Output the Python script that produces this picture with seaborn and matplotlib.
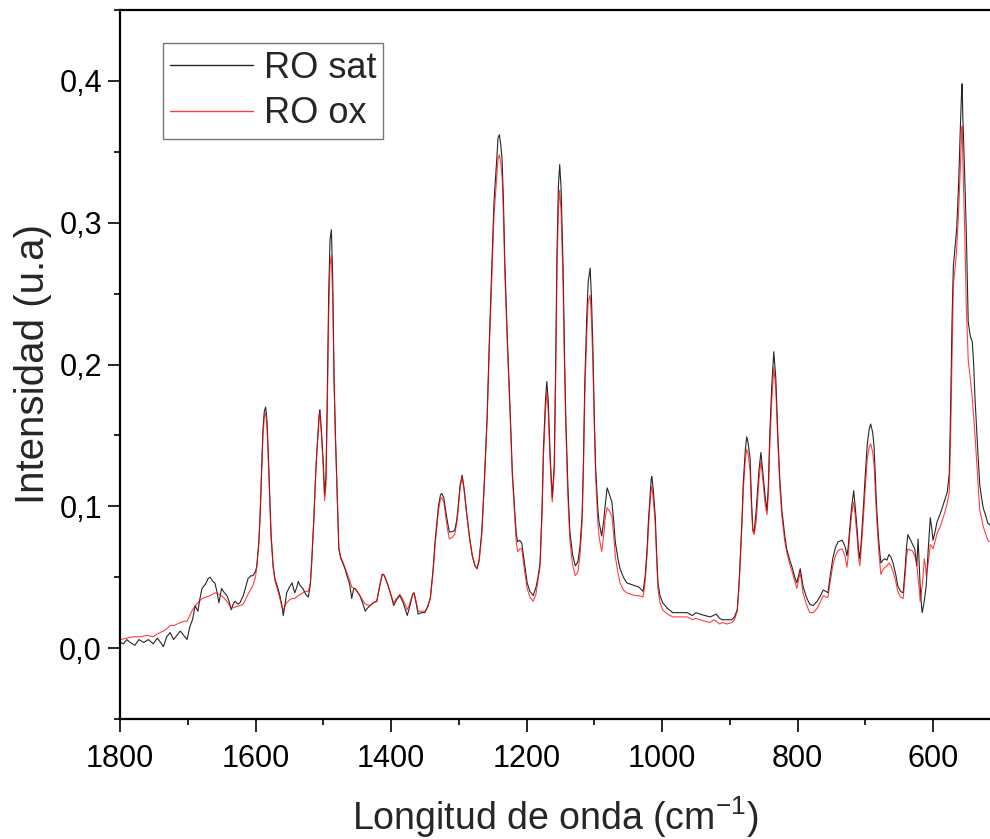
import matplotlib
matplotlib.use("Agg")
import matplotlib.pyplot as plt
import seaborn as sns
import pandas as pd
from matplotlib.ticker import MultipleLocator, FuncFormatter

# ---------------- data ----------------
sat_x = [1800, 1795, 1790, 1785, 1778, 1772, 1765, 1758, 1751, 1745, 1740, 1736, 1731, 1726, 1721, 1716,
         1711, 1706, 1701, 1697, 1693, 1689, 1685, 1682, 1679, 1674, 1670, 1667, 1663, 1660, 1657, 1654,
         1650, 1646, 1642, 1639, 1636, 1633, 1630, 1626, 1623, 1618, 1614, 1611, 1607, 1604, 1600, 1598,
         1595, 1593, 1591, 1589, 1587, 1585, 1583, 1581, 1579, 1577, 1574, 1571, 1568, 1564, 1561, 1559,
         1556, 1554, 1550, 1546, 1544, 1542, 1539, 1537, 1534, 1530, 1526, 1522, 1519, 1517, 1514, 1511,
         1509, 1506, 1505, 1503, 1500, 1498, 1496, 1494, 1492, 1490, 1488, 1486, 1484, 1482, 1480, 1477,
         1474, 1472, 1468, 1465, 1461, 1458, 1455, 1453, 1450, 1446, 1442, 1438, 1435, 1431, 1426, 1421,
         1417, 1413, 1411, 1409, 1405, 1401, 1396, 1392, 1387, 1382, 1376, 1372, 1368, 1366, 1363, 1360,
         1355, 1350, 1346, 1342, 1338, 1335, 1330, 1327, 1325, 1322, 1320, 1317, 1314, 1310, 1306, 1303,
         1301, 1298, 1295, 1292, 1288, 1284, 1280, 1276, 1273, 1270, 1266, 1262, 1258, 1255, 1251, 1248,
         1244, 1242, 1240, 1238, 1236, 1234, 1232, 1228, 1224, 1221, 1217, 1215, 1213, 1210, 1207, 1203,
         1199, 1195, 1190, 1186, 1183, 1180, 1177, 1175, 1172, 1170, 1168, 1165, 1162, 1159, 1157, 1155,
         1153, 1151, 1149, 1146, 1144, 1142, 1139, 1136, 1132, 1128, 1124, 1121, 1118, 1116, 1114, 1111,
         1109, 1106, 1104, 1102, 1100, 1098, 1095, 1093, 1089, 1086, 1084, 1081, 1078, 1076, 1074, 1071,
         1069, 1065, 1062, 1057, 1052, 1046, 1040, 1034, 1028, 1025, 1022, 1020, 1018, 1016, 1015, 1013,
         1010, 1008, 1006, 1003, 999, 992, 984, 975, 963, 955, 950, 944, 937, 929, 924, 920,
         915, 911, 904, 897, 893, 889, 887, 885, 882, 880, 877, 875, 873, 870, 868, 866,
         864, 861, 857, 854, 851, 848, 845, 843, 841, 838, 835, 832, 829, 826, 823, 819,
         816, 812, 808, 804, 801, 798, 796, 794, 792, 787, 782, 777, 771, 766, 762, 758,
         755, 752, 748, 744, 740, 734, 730, 727, 725, 723, 720, 717, 715, 712, 710, 708,
         706, 703, 700, 697, 694, 692, 689, 687, 685, 683, 680, 677, 674, 671, 668, 665,
         662, 659, 655, 652, 648, 644, 641, 639, 637, 634, 631, 627, 624, 622, 620, 619,
         617, 616, 614, 613, 611, 610, 607, 604, 602, 600, 597, 594, 590, 587, 583, 579,
         576, 574, 572, 570, 567, 565, 562, 560, 558, 557, 556, 553, 551, 548, 545, 542,
         540, 538, 534, 531, 528, 526, 522, 519, 516]
sat_y = [0.004, 0.003, 0.006, 0.004, 0.002, 0.006, 0.004, 0.006, 0.003, 0.007, 0.004, 0.001, 0.008, 0.011, 0.006, 0.009,
         0.012, 0.009, 0.006, 0.015, 0.020, 0.030, 0.026, 0.035, 0.042, 0.045, 0.049, 0.050, 0.047, 0.046, 0.040, 0.032,
         0.042, 0.039, 0.037, 0.033, 0.027, 0.031, 0.033, 0.031, 0.032, 0.037, 0.044, 0.049, 0.051, 0.051, 0.054, 0.058,
         0.075, 0.096, 0.125, 0.154, 0.167, 0.170, 0.160, 0.135, 0.107, 0.080, 0.058, 0.048, 0.044, 0.037, 0.030, 0.023,
         0.032, 0.039, 0.043, 0.046, 0.042, 0.039, 0.043, 0.047, 0.044, 0.042, 0.038, 0.036, 0.045, 0.061, 0.090, 0.125,
         0.142, 0.165, 0.168, 0.155, 0.131, 0.108, 0.120, 0.180, 0.250, 0.288, 0.295, 0.260, 0.190, 0.150, 0.118, 0.070,
         0.063, 0.061, 0.056, 0.051, 0.045, 0.035, 0.042, 0.042, 0.040, 0.037, 0.032, 0.026, 0.028, 0.030, 0.032, 0.033,
         0.043, 0.052, 0.052, 0.050, 0.045, 0.039, 0.030, 0.034, 0.037, 0.032, 0.023, 0.030, 0.038, 0.039, 0.032, 0.024,
         0.025, 0.025, 0.029, 0.035, 0.055, 0.075, 0.100, 0.108, 0.109, 0.106, 0.099, 0.090, 0.082, 0.082, 0.083, 0.090,
         0.099, 0.115, 0.122, 0.112, 0.094, 0.078, 0.065, 0.058, 0.056, 0.062, 0.082, 0.120, 0.165, 0.215, 0.272, 0.315,
         0.344, 0.360, 0.362, 0.355, 0.344, 0.315, 0.272, 0.215, 0.165, 0.125, 0.094, 0.080, 0.075, 0.076, 0.074, 0.060,
         0.046, 0.040, 0.037, 0.043, 0.050, 0.060, 0.100, 0.140, 0.175, 0.188, 0.175, 0.135, 0.106, 0.130, 0.200, 0.280,
         0.325, 0.341, 0.325, 0.269, 0.210, 0.163, 0.115, 0.082, 0.066, 0.058, 0.061, 0.072, 0.093, 0.130, 0.187, 0.235,
         0.258, 0.268, 0.245, 0.211, 0.165, 0.128, 0.100, 0.089, 0.079, 0.090, 0.100, 0.113, 0.109, 0.106, 0.103, 0.088,
         0.075, 0.063, 0.056, 0.050, 0.046, 0.045, 0.044, 0.043, 0.040, 0.050, 0.070, 0.090, 0.105, 0.119, 0.121, 0.112,
         0.093, 0.068, 0.046, 0.037, 0.032, 0.028, 0.025, 0.025, 0.025, 0.023, 0.025, 0.024, 0.023, 0.022, 0.023, 0.024,
         0.021, 0.020, 0.020, 0.020, 0.022, 0.027, 0.040, 0.058, 0.090, 0.117, 0.140, 0.149, 0.145, 0.134, 0.105, 0.084,
         0.082, 0.097, 0.125, 0.138, 0.123, 0.108, 0.097, 0.115, 0.150, 0.185, 0.209, 0.190, 0.150, 0.118, 0.097, 0.080,
         0.070, 0.063, 0.057, 0.050, 0.046, 0.052, 0.056, 0.050, 0.044, 0.036, 0.031, 0.030, 0.033, 0.037, 0.041, 0.040,
         0.039, 0.050, 0.063, 0.071, 0.075, 0.076, 0.072, 0.065, 0.072, 0.084, 0.100, 0.111, 0.100, 0.084, 0.070, 0.063,
         0.075, 0.097, 0.122, 0.144, 0.155, 0.158, 0.152, 0.142, 0.120, 0.097, 0.075, 0.060, 0.062, 0.063, 0.062, 0.066,
         0.064, 0.060, 0.052, 0.044, 0.040, 0.039, 0.057, 0.072, 0.080, 0.077, 0.074, 0.070, 0.058, 0.077, 0.055, 0.044,
         0.030, 0.025, 0.030, 0.033, 0.040, 0.044, 0.070, 0.092, 0.085, 0.076, 0.082, 0.089, 0.094, 0.098, 0.104, 0.110,
         0.123, 0.170, 0.229, 0.269, 0.285, 0.296, 0.330, 0.362, 0.390, 0.398, 0.375, 0.330, 0.296, 0.230, 0.220, 0.216,
         0.200, 0.176, 0.140, 0.115, 0.105, 0.099, 0.093, 0.088, 0.087]

ox_x = [1800, 1790, 1780, 1770, 1760, 1751, 1745, 1736, 1730, 1726, 1720, 1711, 1705, 1701, 1697, 1693,
        1689, 1685, 1679, 1673, 1667, 1660, 1654, 1648, 1642, 1636, 1630, 1623, 1618, 1611, 1604, 1600,
        1598, 1595, 1593, 1591, 1589, 1587, 1585, 1583, 1581, 1579, 1577, 1574, 1571, 1568, 1564, 1561,
        1559, 1556, 1554, 1550, 1546, 1542, 1537, 1530, 1526, 1522, 1519, 1517, 1514, 1511, 1509, 1506,
        1505, 1503, 1500, 1498, 1496, 1494, 1492, 1490, 1488, 1486, 1484, 1482, 1480, 1477, 1474, 1472,
        1468, 1465, 1461, 1458, 1453, 1446, 1442, 1438, 1431, 1426, 1421, 1417, 1413, 1411, 1409, 1405,
        1401, 1396, 1392, 1387, 1382, 1376, 1372, 1368, 1366, 1363, 1360, 1355, 1350, 1346, 1342, 1338,
        1335, 1330, 1327, 1325, 1322, 1320, 1317, 1314, 1310, 1306, 1303, 1301, 1298, 1295, 1292, 1288,
        1284, 1280, 1276, 1273, 1270, 1266, 1262, 1258, 1255, 1251, 1248, 1244, 1242, 1240, 1238, 1236,
        1234, 1232, 1228, 1224, 1221, 1217, 1215, 1213, 1210, 1207, 1203, 1199, 1195, 1190, 1186, 1183,
        1180, 1177, 1175, 1172, 1170, 1168, 1165, 1162, 1159, 1157, 1155, 1153, 1151, 1149, 1146, 1144,
        1142, 1139, 1136, 1132, 1128, 1124, 1121, 1118, 1116, 1114, 1111, 1109, 1106, 1104, 1102, 1100,
        1098, 1095, 1093, 1089, 1086, 1084, 1081, 1078, 1076, 1074, 1071, 1069, 1065, 1062, 1057, 1052,
        1046, 1040, 1034, 1028, 1025, 1022, 1020, 1018, 1016, 1015, 1013, 1010, 1008, 1006, 1003, 999,
        992, 984, 975, 963, 955, 950, 944, 937, 929, 924, 920, 915, 911, 904, 897, 893,
        889, 887, 885, 882, 880, 877, 875, 873, 870, 868, 866, 864, 861, 857, 854, 851,
        848, 845, 843, 841, 838, 835, 832, 829, 826, 823, 819, 816, 812, 808, 804, 801,
        798, 796, 794, 792, 787, 782, 777, 771, 766, 762, 758, 755, 752, 748, 744, 740,
        734, 730, 727, 725, 723, 720, 717, 715, 712, 710, 708, 706, 703, 700, 697, 694,
        692, 689, 687, 685, 683, 680, 677, 674, 671, 668, 665, 662, 659, 655, 652, 648,
        644, 641, 639, 637, 634, 631, 627, 624, 622, 620, 619, 617, 616, 614, 613, 611,
        610, 607, 604, 602, 600, 597, 594, 590, 587, 583, 579, 576, 574, 572, 570, 567,
        565, 562, 560, 558, 557, 556, 553, 551, 548, 545, 542, 540, 538, 534, 531, 528,
        526, 522, 519, 516]
ox_y = [0.006, 0.007, 0.008, 0.008, 0.009, 0.008, 0.010, 0.012, 0.014, 0.016, 0.016, 0.018, 0.019, 0.019, 0.023, 0.027,
        0.030, 0.032, 0.035, 0.036, 0.037, 0.039, 0.038, 0.036, 0.033, 0.028, 0.029, 0.030, 0.031, 0.038, 0.044, 0.050,
        0.058, 0.075, 0.096, 0.125, 0.150, 0.163, 0.166, 0.156, 0.132, 0.105, 0.078, 0.057, 0.047, 0.042, 0.035, 0.029,
        0.027, 0.030, 0.032, 0.034, 0.035, 0.035, 0.037, 0.039, 0.040, 0.040, 0.046, 0.061, 0.090, 0.125, 0.142, 0.163,
        0.166, 0.153, 0.128, 0.104, 0.115, 0.170, 0.235, 0.270, 0.277, 0.245, 0.185, 0.147, 0.116, 0.070, 0.064, 0.062,
        0.057, 0.053, 0.048, 0.043, 0.042, 0.037, 0.034, 0.031, 0.030, 0.032, 0.033, 0.043, 0.052, 0.052, 0.050, 0.045,
        0.039, 0.032, 0.035, 0.038, 0.034, 0.027, 0.032, 0.038, 0.039, 0.033, 0.026, 0.026, 0.026, 0.029, 0.035, 0.053,
        0.072, 0.097, 0.105, 0.106, 0.103, 0.096, 0.085, 0.077, 0.078, 0.080, 0.088, 0.097, 0.113, 0.121, 0.111, 0.093,
        0.077, 0.065, 0.058, 0.056, 0.061, 0.080, 0.118, 0.163, 0.210, 0.265, 0.305, 0.332, 0.345, 0.348, 0.342, 0.332,
        0.305, 0.265, 0.210, 0.163, 0.122, 0.090, 0.074, 0.068, 0.070, 0.070, 0.055, 0.042, 0.036, 0.033, 0.038, 0.048,
        0.058, 0.095, 0.135, 0.168, 0.180, 0.168, 0.130, 0.103, 0.125, 0.190, 0.265, 0.308, 0.323, 0.308, 0.255, 0.200,
        0.155, 0.108, 0.076, 0.059, 0.051, 0.054, 0.066, 0.088, 0.125, 0.178, 0.222, 0.244, 0.249, 0.230, 0.200, 0.158,
        0.122, 0.091, 0.079, 0.068, 0.080, 0.091, 0.099, 0.097, 0.095, 0.093, 0.078, 0.065, 0.053, 0.046, 0.041, 0.039,
        0.038, 0.037, 0.037, 0.036, 0.046, 0.066, 0.085, 0.100, 0.112, 0.114, 0.106, 0.088, 0.064, 0.042, 0.032, 0.027,
        0.024, 0.022, 0.022, 0.022, 0.020, 0.021, 0.020, 0.019, 0.018, 0.020, 0.019, 0.017, 0.018, 0.017, 0.018, 0.020,
        0.026, 0.038, 0.056, 0.087, 0.112, 0.133, 0.140, 0.137, 0.125, 0.100, 0.082, 0.080, 0.089, 0.118, 0.132, 0.118,
        0.102, 0.094, 0.110, 0.142, 0.175, 0.198, 0.182, 0.145, 0.113, 0.093, 0.076, 0.068, 0.060, 0.054, 0.047, 0.042,
        0.049, 0.053, 0.047, 0.039, 0.031, 0.025, 0.025, 0.028, 0.033, 0.037, 0.036, 0.036, 0.046, 0.058, 0.065, 0.069,
        0.070, 0.065, 0.057, 0.066, 0.080, 0.095, 0.103, 0.094, 0.078, 0.064, 0.058, 0.070, 0.090, 0.113, 0.134, 0.142,
        0.144, 0.138, 0.129, 0.110, 0.090, 0.068, 0.052, 0.055, 0.057, 0.058, 0.060, 0.058, 0.054, 0.047, 0.040, 0.036,
        0.035, 0.052, 0.065, 0.070, 0.069, 0.069, 0.065, 0.060, 0.049, 0.040, 0.033, 0.040, 0.044, 0.055, 0.063, 0.058,
        0.051, 0.060, 0.073, 0.072, 0.070, 0.075, 0.081, 0.085, 0.089, 0.095, 0.102, 0.110, 0.150, 0.205, 0.256, 0.270,
        0.282, 0.310, 0.335, 0.360, 0.368, 0.345, 0.290, 0.243, 0.203, 0.190, 0.176, 0.163, 0.150, 0.120, 0.097, 0.091,
        0.086, 0.080, 0.076, 0.075]

series_names = ["RO sat", "RO ox"]
series_colors = ["#000000", "#ff0000"]
x_ticks = [1800, 1600, 1400, 1200, 1000, 800, 600]
y_ticks = [0.0, 0.1, 0.2, 0.3, 0.4]
x_label = "Longitud de onda (cm$^{-1}$)"
y_label = "Intensidad (u.a)"

# ---------------- plotting ----------------
sns.set_style("ticks")
plt.rcParams["font.family"] = ["Liberation Sans", "DejaVu Sans"]
plt.rcParams["mathtext.fontset"] = "custom"
plt.rcParams["mathtext.rm"] = "Liberation Sans"
plt.rcParams["mathtext.it"] = "Liberation Sans"

fig = plt.figure(figsize=(9.9, 8.39), dpi=100)
ax = fig.add_axes([120 / 990, 1 - 719 / 839, 870 / 990, 709 / 839])

df_sat = pd.DataFrame({"x": sat_x, "y": sat_y})
df_ox = pd.DataFrame({"x": ox_x, "y": ox_y})
sns.lineplot(data=df_sat, x="x", y="y", ax=ax, color=series_colors[0], lw=0.8,
             label=series_names[0], estimator=None, sort=False, alpha=0.85)
sns.lineplot(data=df_ox, x="x", y="y", ax=ax, color=series_colors[1], lw=0.8,
             label=series_names[1], estimator=None, sort=False, alpha=0.75)

ax.set_xlim(1800, 1800 - 870 * 1.476)
ax.set_ylim(-0.05, 0.45)
ax.set_xticks(x_ticks)
ax.set_yticks(y_ticks)
ax.xaxis.set_minor_locator(MultipleLocator(100))
ax.yaxis.set_minor_locator(MultipleLocator(0.05))
ax.yaxis.set_major_formatter(FuncFormatter(lambda v, p: f"{v:.1f}".replace(".", ",")))
ax.xaxis.set_major_formatter(FuncFormatter(lambda v, p: f"{int(round(v))}"))

ax.tick_params(axis="both", which="major", direction="out", length=9, width=1.2,
               labelsize=22, color="black", labelcolor="black")
ax.tick_params(axis="both", which="minor", direction="out", length=4.5, width=1.2, color="black")
ax.tick_params(axis="x", which="major", pad=9)
ax.tick_params(axis="y", which="major", pad=4)

for side in ["left", "bottom", "top"]:
    ax.spines[side].set_visible(True)
    ax.spines[side].set_linewidth(1.6)
    ax.spines[side].set_color("black")
ax.spines["right"].set_visible(False)

ax.set_xlabel(x_label, fontsize=27, labelpad=15)
ax.set_ylabel(y_label, fontsize=29, labelpad=5)

leg = ax.legend(loc="upper left", bbox_to_anchor=(0.049, 0.953), borderaxespad=0,
                fontsize=26, frameon=True, fancybox=False, handlelength=2.3,
                handletextpad=0.3, borderpad=0.2, labelspacing=0.3)
leg.get_frame().set_edgecolor("#555555")
leg.get_frame().set_linewidth(1.0)
for line in leg.get_lines():
    line.set_linewidth(1.0)

fig.savefig("out.png", dpi=100)
